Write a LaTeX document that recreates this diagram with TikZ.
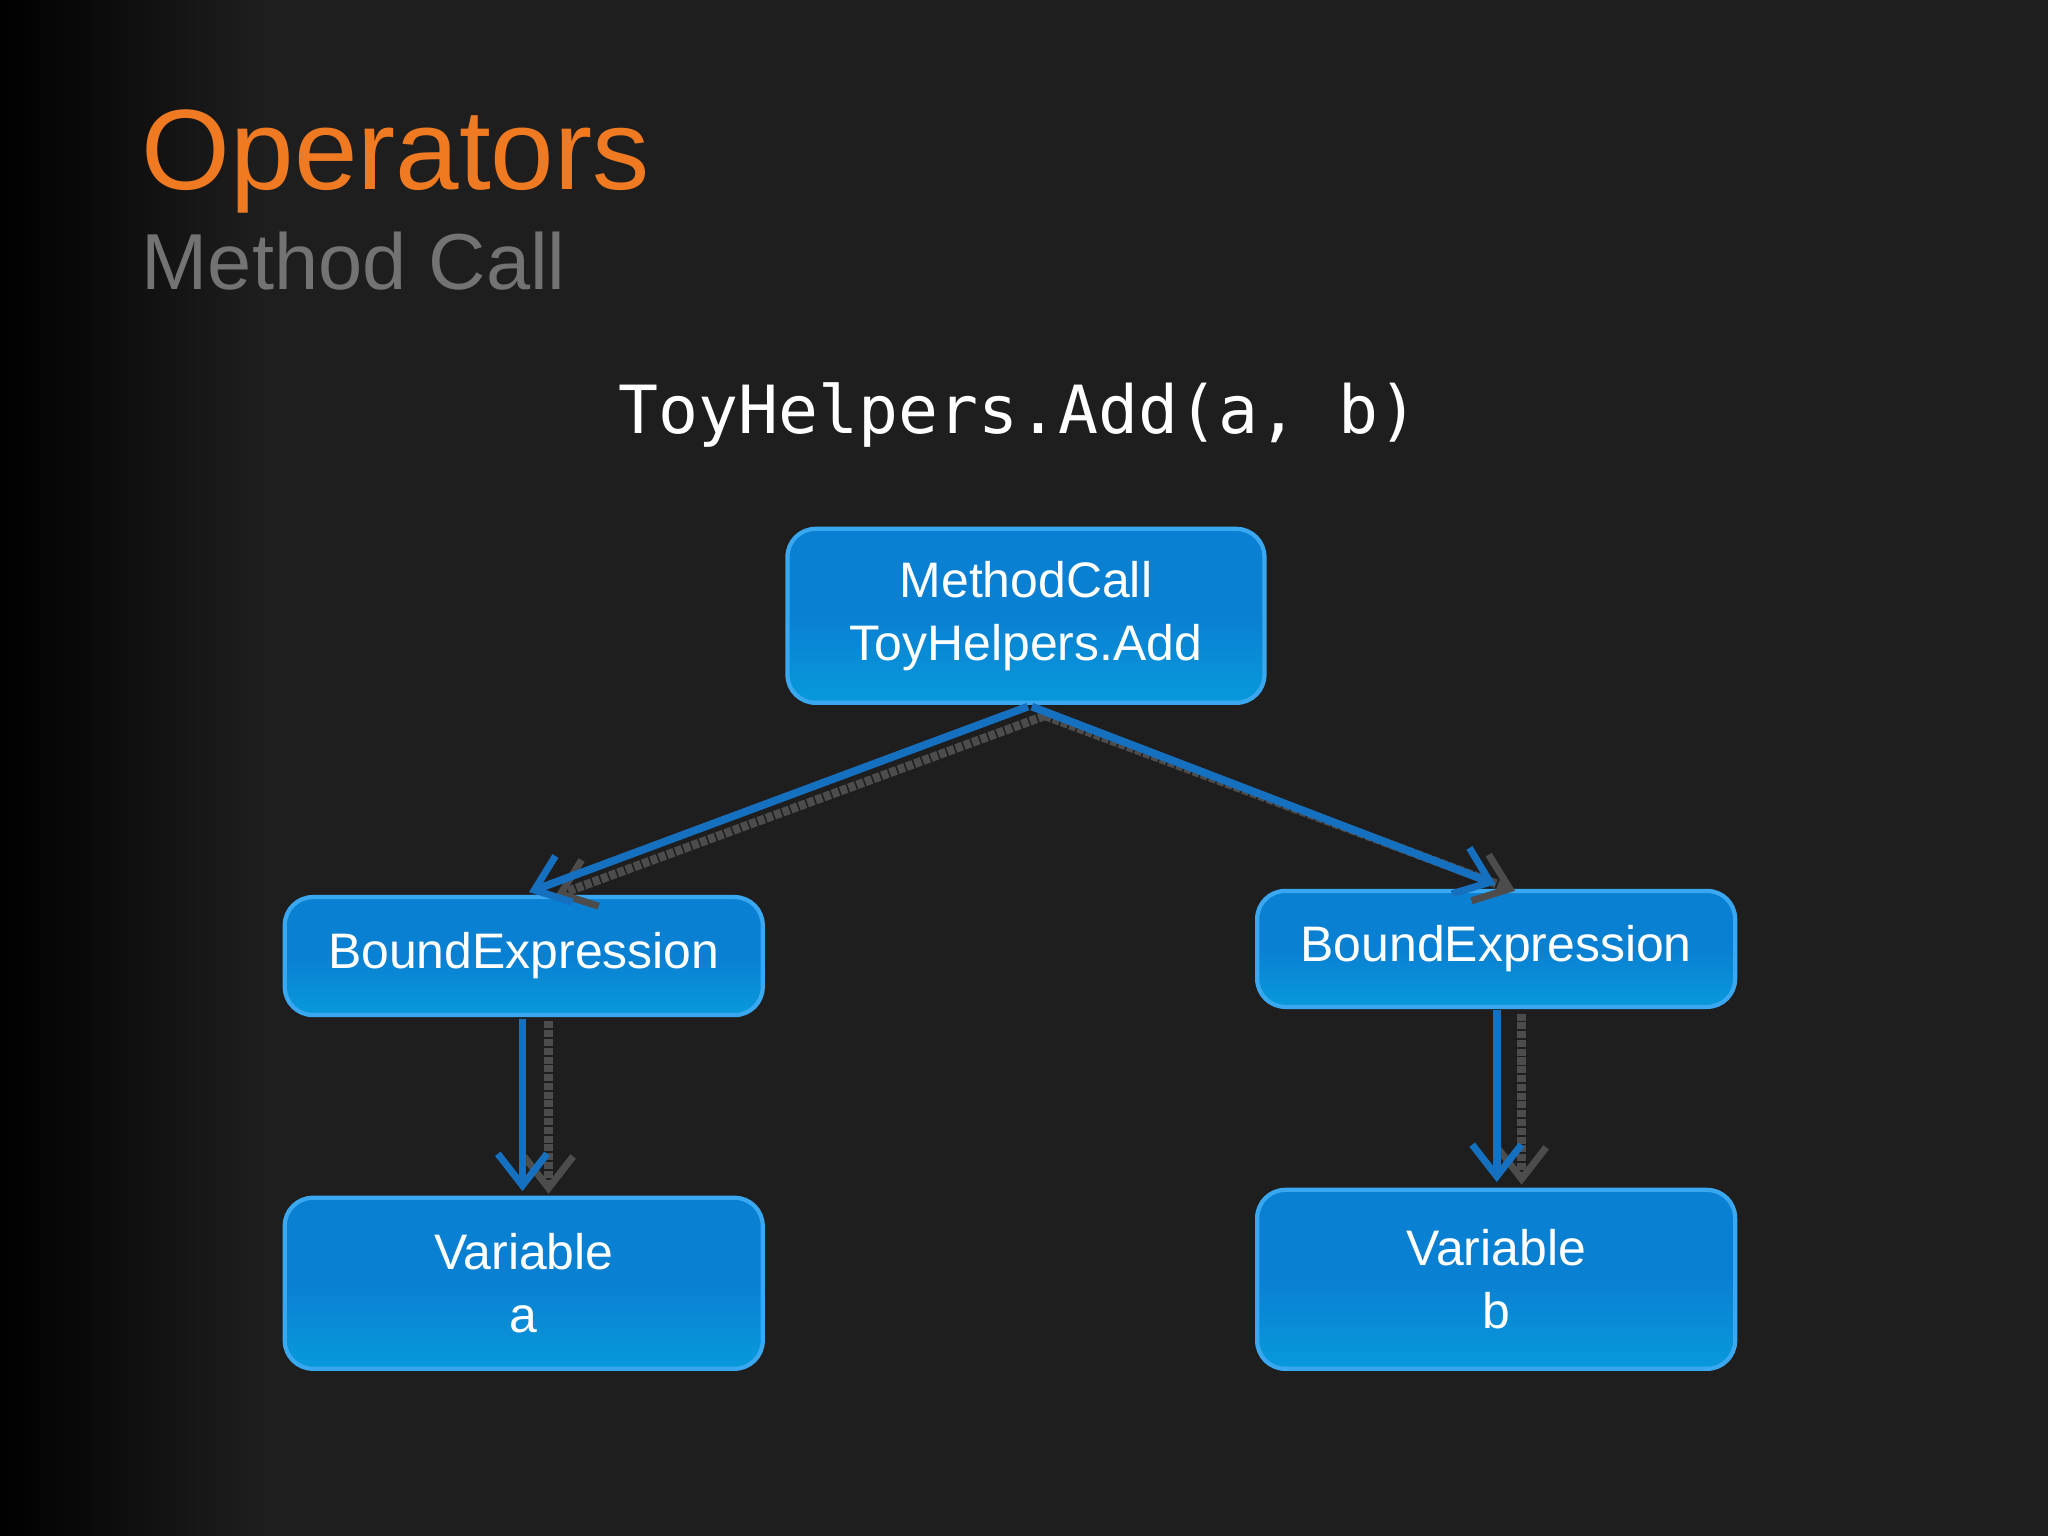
\documentclass[tikz,border=0pt]{standalone}
\usepackage{fontspec}
\setmainfont{Liberation Sans}
\newfontfamily\monof{DejaVu Sans Mono}
\usetikzlibrary{arrows.meta}
\definecolor{boxblue}{HTML}{0A80D2}
\definecolor{boxedge}{HTML}{3AA8F0}
\definecolor{arrblue}{HTML}{1670C0}
\definecolor{orng}{HTML}{F07A22}
\definecolor{bgg}{HTML}{1E1E1E}
\tikzset{
 box/.style={draw=boxedge,line width=1.2pt,rounded corners=8pt,top color=boxblue,bottom color=boxblue!80!cyan,middle color=boxblue,
   text=white,align=center,font=\fontsize{14.2pt}{18pt}\selectfont,inner sep=0pt},
 arr/.style={draw=arrblue,line width=2.2pt,-{Straight Barb[length=9pt,width=14pt,line width=2pt]}},
 sh/.style={draw=black!70,line width=2.5pt,dashed,dash pattern=on 2pt off 0.5pt,-{Straight Barb[length=9pt,width=14pt,line width=2pt]}}
}
\begin{document}
\begin{tikzpicture}[x=0.013061cm,y=-0.013061cm]
\useasboundingbox (0,0) rectangle (1568,1176);
\fill[bgg] (0,0) rectangle (1568,1176);
\shade[left color=black,right color=bgg] (0,0) rectangle (200,1176);
\node[anchor=base west,text=orng,font=\fontsize{32.5pt}{36pt}\selectfont,inner sep=0] (t) at (108,145) {Operators};
\node[anchor=base west,text=black!55,font=\fontsize{22.6pt}{26pt}\selectfont,inner sep=0] (st) at (108,222) {Method Call};
\node[text=white,font=\monof\fontsize{18.9pt}{22pt}\selectfont,inner sep=0] (code) at (780,318) {ToyHelpers.Add(a, b)};
\node[box,minimum width=4.77cm,minimum height=1.74cm] (mc) at (785.5,471.5) {MethodCall\\ToyHelpers.Add};
\node[box,minimum width=4.78cm,minimum height=1.18cm] (be1) at (401,732) {BoundExpression};
\node[box,minimum width=4.78cm,minimum height=1.16cm] (be2) at (1145.5,726.5) {BoundExpression};
\node[box,minimum width=4.78cm,minimum height=1.71cm] (va) at (401,982.5) {Variable\\a};
\node[box,minimum width=4.78cm,minimum height=1.79cm] (vb) at (1145.5,979.5) {Variable\\b};
\coordinate (s1) at (800,548); \coordinate (e1) at (425,686);
\coordinate (s2) at (800,548); \coordinate (e2) at (1160,682);
\coordinate (s3) at (420,782); \coordinate (e3) at (420,914);
\coordinate (s4) at (1165,776); \coordinate (e4) at (1165,907);
\draw[sh] (s1) -- (e1); \draw[sh] (s2) -- (e2); \draw[sh] (s3) -- (e3); \draw[sh] (s4) -- (e4);
\coordinate (a1) at (787,541); \coordinate (b1) at (405,683);
\coordinate (a2) at (790,541); \coordinate (b2) at (1145,677);
\coordinate (a3) at (400,780); \coordinate (b3) at (400,912);
\coordinate (a4) at (1146,773); \coordinate (b4) at (1146,905);
\draw[arr] (a1) -- (b1); \draw[arr] (a2) -- (b2); \draw[arr] (a3) -- (b3); \draw[arr] (a4) -- (b4);
\end{tikzpicture}
\end{document}
